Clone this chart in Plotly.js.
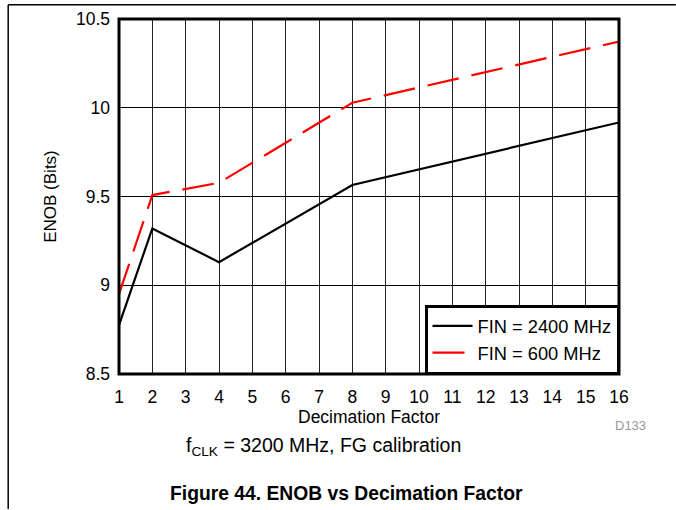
<!DOCTYPE html>
<html>
<head>
<meta charset="utf-8">
<script src="https://cdn.plot.ly/plotly-3.0.1.min.js"></script>
<style>
html,body{margin:0;padding:0;background:#fff;}
#chart{width:676px;height:510px;}
</style>
</head>
<body>
<div id="chart"></div>
<script>
const decimation = [1, 2, 4, 8, 16];
const enobFin2400 = [8.775, 9.32, 9.13, 9.565, 9.917];
const enobFin600 = [8.95, 9.508, 9.577, 10.028, 10.373];
const seriesNames = ["FIN = 2400 MHz", "FIN = 600 MHz"];
const xTicks = [1,2,3,4,5,6,7,8,9,10,11,12,13,14,15,16];
const yTicks = [8.5, 9, 9.5, 10, 10.5];
const yTickText = ["8.5", "9", "9.5", "10", "10.5"];

const font = "Liberation Sans, Arial, sans-serif";

const traces = [
  {x: decimation, y: enobFin2400, name: seriesNames[0], mode: "lines",
   line: {color: "#000000", width: 2.2}},
  {x: decimation, y: enobFin600, name: seriesNames[1], mode: "lines",
   line: {color: "#ff0000", width: 2.2, dash: "32px,13px"}}
];

const layout = {
  width: 676, height: 510,
  margin: {l: 119, r: 57, t: 19, b: 136},
  paper_bgcolor: "#fff", plot_bgcolor: "#fff",
  font: {family: font, size: 17.5, color: "#000"},
  showlegend: true,
  legend: {x: 1, xanchor: "right", y: 0, yanchor: "bottom",
    bgcolor: "#fff", bordercolor: "#000", borderwidth: 2.5,
    font: {family: font, size: 18.3, color: "#000"},
    tracegroupgap: 0, itemwidth: 40},
  xaxis: {range: [1, 16], tickvals: xTicks, ticktext: xTicks.map(String),
    showgrid: true, gridcolor: "#222", gridwidth: 1,
    zeroline: false, showline: false, ticks: "", ticklen: 0,
    ticklabelstandoff: 10,
    tickfont: {family: font, size: 17.5},
    title: {text: "Decimation Factor", font: {family: font, size: 17.5}, standoff: 3}},
  yaxis: {range: [8.5, 10.5], tickvals: yTicks, ticktext: yTickText,
    showgrid: true, gridcolor: "#000", gridwidth: 1,
    zeroline: false, showline: false, ticks: "", ticklen: 0,
    ticklabelstandoff: 8,
    tickfont: {family: font, size: 17.5},
    title: {text: "ENOB (Bits)", font: {family: font, size: 17}, standoff: 14}},
  shapes: [
    {type: "rect", xref: "paper", yref: "paper", x0: 0, x1: 1, y0: 0, y1: 1,
     line: {color: "#000", width: 3}, fillcolor: "rgba(0,0,0,0)", layer: "above"},
    {type: "line", xref: "paper", yref: "paper", x0: -0.2216, x1: 1.1138, y0: 1.0398, y1: 1.0398,
     line: {color: "#000", width: 1.5}},
    {type: "line", xref: "paper", yref: "paper", x0: -0.2216, x1: -0.2216, y0: 1.0398, y1: -0.38,
     line: {color: "#000", width: 1.5}}
  ],
  annotations: [
    {text: "D133", xref: "paper", yref: "paper", x: 1.022, y: -0.144,
     xanchor: "center", yanchor: "middle",
     showarrow: false, font: {family: font, size: 13, color: "#999"}},
    {text: "f<sub>CLK</sub> = 3200 MHz, FG calibration", xref: "paper", yref: "paper",
     x: 0.408, y: -0.204, xanchor: "center", yanchor: "middle", showarrow: false,
     font: {family: font, size: 19.5, color: "#000"}},
    {text: "<b>Figure 44. ENOB vs Decimation Factor</b>", xref: "paper", yref: "paper",
     x: 0.454, y: -0.338, xanchor: "center", yanchor: "middle", showarrow: false,
     font: {family: font, size: 19.3, color: "#000"}}
  ]
};

Plotly.newPlot("chart", traces, layout, {displayModeBar: false, staticPlot: true});
</script>
</body>
</html>
